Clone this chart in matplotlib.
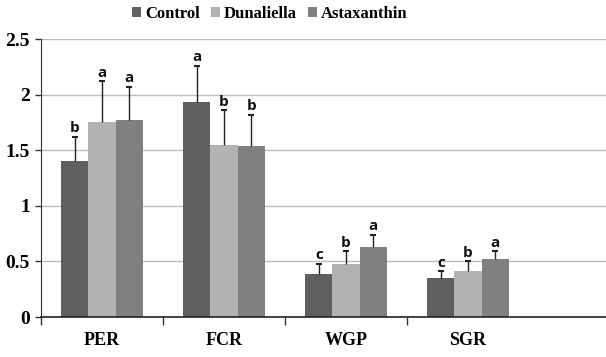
import numpy as np
import matplotlib.pyplot as plt

# values
categories = ['PER', 'FCR', 'WGP', 'SGR']
series_names = ['Control', 'Dunaliella', 'Astaxanthin']
control = [1.40, 1.93, 0.39, 0.35]
dunaliella = [1.75, 1.55, 0.48, 0.41]
astaxanthin = [1.77, 1.54, 0.63, 0.52]
control_err = [0.22, 0.33, 0.09, 0.06]
dunaliella_err = [0.37, 0.31, 0.11, 0.09]
astaxanthin_err = [0.30, 0.28, 0.11, 0.07]
control_letters = ['b', 'a', 'c', 'c']
dunaliella_letters = ['a', 'b', 'b', 'b']
astaxanthin_letters = ['a', 'b', 'a', 'a']

colors = ['#5f5f5f', '#b2b2b2', '#808080']
serif = 'Liberation Serif'

fig = plt.figure(figsize=(6.06, 3.57), dpi=100)
ax = fig.add_axes([41 / 606, 40 / 357, 1 - 41 / 606, 278 / 357])

x = np.arange(len(categories))
width = 0.222
all_vals = [control, dunaliella, astaxanthin]
all_errs = [control_err, dunaliella_err, astaxanthin_err]
all_letters = [control_letters, dunaliella_letters, astaxanthin_letters]

for i, (vals, errs, letters) in enumerate(zip(all_vals, all_errs, all_letters)):
    pos = x + (i - 1) * width
    vals = np.array(vals)
    tops = vals + np.array(errs)
    ax.bar(pos, vals, width, color=colors[i], label=series_names[i], zorder=2)
    # upper error bar only, with a small cap
    ax.vlines(pos, vals, tops, color='#222222', linewidth=1.0, zorder=3)
    ax.plot(pos, tops, ls='none', marker='_', markersize=5, markeredgewidth=1.5,
            color='#222222', zorder=3)
    for p, t, lt in zip(pos, tops, letters):
        ax.text(p, t + 0.015, lt, ha='center', va='bottom', fontsize=11,
                fontweight='bold', family='Open Sans', color='#111111')

ax.set_ylim(0, 2.5)
ax.set_xlim(-0.5, -0.5 + 565 / 122)
ax.set_yticks([0, 0.5, 1, 1.5, 2, 2.5])
ax.set_yticklabels(['0', '0.5', '1', '1.5', '2', '2.5'])
ax.grid(axis='y', color='#bdbdbd', linewidth=1.0, zorder=0)
ax.set_axisbelow(True)

ax.set_xticks(x)
ax.set_xticklabels(categories)
ax.set_xticks(np.arange(len(categories)) - 0.5, minor=True)
ax.tick_params(axis='x', which='major', length=0, pad=11)
ax.tick_params(axis='x', which='minor', length=6, width=1, color='#333333')
ax.tick_params(axis='y', length=4, width=1, color='#333333', pad=4)

for lab in ax.get_xticklabels():
    lab.set_family(serif)
    lab.set_fontweight('bold')
    lab.set_fontsize(13)
for lab in ax.get_yticklabels():
    lab.set_family(serif)
    lab.set_fontweight('bold')
    lab.set_fontsize(14)

for s in ['top', 'right']:
    ax.spines[s].set_visible(False)
ax.spines['left'].set_color('#333333')
ax.spines['bottom'].set_color('#222222')
ax.spines['bottom'].set_linewidth(1.2)

fig.legend(loc='center', bbox_to_anchor=(270 / 606, 1 - 14 / 357), ncol=3, frameon=False,
           prop={'family': serif, 'weight': 'bold', 'size': 12},
           handlelength=0.5, handleheight=0.5, handletextpad=0.25, columnspacing=0.7)

plt.savefig('out.png', dpi=100)
